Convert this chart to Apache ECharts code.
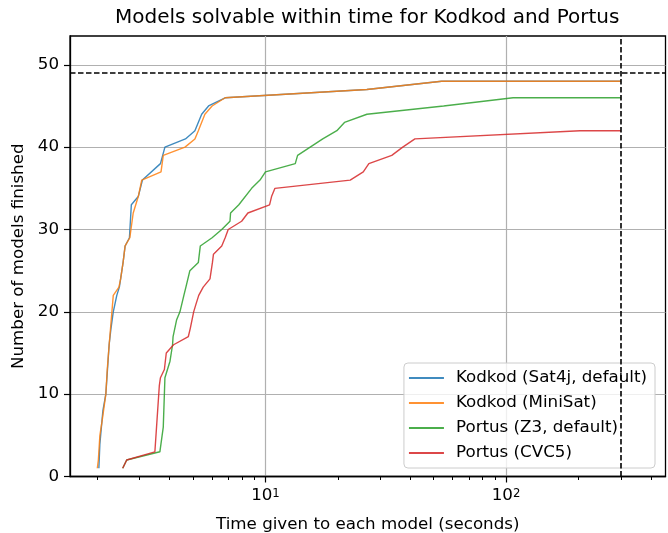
<!DOCTYPE html>
<html><head><meta charset="utf-8">
<script src="https://cdn.jsdelivr.net/npm/echarts@6/dist/echarts.min.js"></script>
<style>html,body{margin:0;padding:0;background:#fff}#c{width:668px;height:533px}</style>
</head><body><div id="c"></div>
<script>
// ---- data ----
const seriesNames = ['Kodkod (Sat4j, default)', 'Kodkod (MiniSat)', 'Portus (Z3, default)', 'Portus (CVC5)'];
const seriesColors = ['#1f77b4', '#ff7f0e', '#2ca02c', '#d62728'];

const sat4jTimes  = [2.03, 2.05, 2.11, 2.17, 2.24, 2.28, 2.33, 2.41, 2.47, 2.50, 2.56, 2.61, 2.72, 2.77, 2.96, 3.08, 3.66, 3.82, 4.65, 5.09, 5.43, 5.8, 6.8, 26.4, 54, 300];
const sat4jCounts = [1, 4, 8, 10, 16, 18, 20, 22, 23, 24, 26, 28, 29, 33, 34, 36, 38, 40, 41, 42, 44, 45, 46, 47, 48, 48];

const minisatTimes  = [2.00, 2.02, 2.05, 2.10, 2.17, 2.20, 2.24, 2.27, 2.33, 2.46, 2.50, 2.56, 2.61, 2.73, 2.76, 2.82, 2.96, 3.06, 3.68, 3.76, 4.63, 5.09, 5.26, 5.6, 6.0, 6.8, 26.4, 54, 300];
const minisatCounts = [1, 2, 5, 7, 10, 13, 16, 18, 22, 23, 24, 26, 28, 29, 30, 32, 34, 36, 37, 39, 40, 41, 42, 44, 45, 46, 47, 48, 48];

const z3Times  = [2.55, 2.65, 3.64, 3.76, 3.80, 3.82, 4.01, 4.11, 4.13, 4.27, 4.41, 4.58, 4.67, 4.85, 5.26, 5.36, 6.0, 6.58, 7.12, 7.16, 7.75, 8.76, 9.49, 10.0, 13.3, 13.6, 17.3, 19.8, 21.3, 26.4, 55, 107, 300];
const z3Counts = [1, 2, 3, 6, 10, 12, 14, 16, 17, 19, 20, 22, 23, 25, 26, 28, 29, 30, 31, 32, 33, 35, 36, 37, 38, 39, 41, 42, 43, 44, 45, 46, 46];

const cvc5Times  = [2.55, 2.65, 3.47, 3.62, 3.66, 3.80, 3.87, 4.15, 4.78, 4.87, 5.03, 5.15, 5.28, 5.51, 5.88, 6.02, 6.08, 6.58, 6.8, 7.0, 7.96, 8.45, 10.4, 10.6, 10.95, 22.5, 25.5, 26.9, 33.5, 37.2, 41.8, 203, 300];
const cvc5Counts = [1, 2, 3, 11, 12, 13, 15, 16, 17, 18, 20, 21, 22, 23, 24, 26, 27, 28, 29, 30, 31, 32, 33, 34, 35, 36, 37, 38, 39, 40, 41, 42, 42];

const totalModels = 49;
const timeLimit = 300;
const yTicks = [0, 10, 20, 30, 40, 50];
const xMajorTicks = [10, 100];
const xMinorTicks = [2, 3, 4, 5, 6, 7, 8, 9, 20, 30, 40, 50, 60, 70, 80, 90, 200, 300, 400];

// ---- chart ----
const FONT = 'DejaVu Sans';
const FS = 16.7;
const pairs = (xs, ys) => xs.map((x, i) => [x, ys[i]]);
const allData = [pairs(sat4jTimes, sat4jCounts), pairs(minisatTimes, minisatCounts), pairs(z3Times, z3Counts), pairs(cvc5Times, cvc5Counts)];

const series = allData.map((d, i) => ({
  name: seriesNames[i], type: 'line', data: d, symbol: 'none', xAxisIndex: 0, yAxisIndex: 0,
  lineStyle: { color: seriesColors[i], width: 1.4, opacity: 0.85 },
  itemStyle: { color: seriesColors[i] },
  z: 2 + i
}));
series[0].markLine = {
  silent: true, symbol: ['none', 'none'], label: { show: false },
  lineStyle: { color: '#000', type: [5.5, 2.5], width: 1.6, opacity: 1 },
  data: [{ yAxis: totalModels }, { xAxis: timeLimit }],
  z: 10
};

const chart = echarts.init(document.getElementById('c'));
chart.setOption({
  animation: false,
  title: {
    text: 'Models solvable within time for Kodkod and Portus',
    left: 115, top: 8, padding: 0,
    textStyle: { fontFamily: FONT, fontSize: 20, fontWeight: 'normal', color: '#000' }
  },
  grid: { left: 70, right: 2.5, top: 36, bottom: 56.5, outerBoundsMode: 'none', containLabel: false, show: true, borderColor: '#000', borderWidth: 1.3, backgroundColor: 'transparent' },
  legend: {
    orient: 'vertical', right: 13, top: 363,
    padding: [5, 8, 5, 5], itemGap: 5, itemWidth: 35, itemHeight: 2,
    icon: 'rect',
    itemStyle: { opacity: 0.85 },
    backgroundColor: 'rgba(255,255,255,0.8)', borderColor: '#cccccc', borderWidth: 1, borderRadius: 4,
    textStyle: { fontFamily: FONT, fontSize: FS, color: '#000', lineHeight: 20, padding: [0, 0, 0, 7] },
    data: seriesNames
  },
  xAxis: [{
    type: 'log', logBase: 10, min: 1.54, max: 460,
    name: 'Time given to each model (seconds)', nameLocation: 'middle', nameGap: 40,
    nameTextStyle: { fontFamily: FONT, fontSize: FS, color: '#000' },
    axisLine: { show: true, lineStyle: { color: '#000', width: 1.3 } },
    axisTick: { show: true, inside: false, length: 6, customValues: xMajorTicks, lineStyle: { color: '#000', width: 1.2 } },
    axisLabel: {
      show: true, margin: 11, customValues: xMajorTicks,
      formatter: v => '{a|10}{b|' + Math.round(Math.log10(v)) + '}',
      rich: {
        a: { fontFamily: FONT, fontSize: FS, color: '#000', verticalAlign: 'bottom' },
        b: { fontFamily: FONT, fontSize: 11.7, color: '#000', verticalAlign: 'top' }
      }
    },
    splitLine: { show: true, lineStyle: { color: '#b0b0b0', width: 1.2 } },
    minorTick: { show: false }
  }, {
    type: 'log', logBase: 10, min: 1.54, max: 460, position: 'bottom',
    axisLine: { show: false },
    axisTick: { show: true, inside: false, length: 3.5, customValues: xMinorTicks, lineStyle: { color: '#000', width: 1 } },
    axisLabel: { show: false },
    splitLine: { show: false }
  }],
  yAxis: {
    type: 'value', min: 0, max: 53.5, interval: 10,
    name: 'Number of models finished', nameLocation: 'middle', nameGap: 39,
    nameTextStyle: { fontFamily: FONT, fontSize: FS, color: '#000' },
    axisLine: { show: true, lineStyle: { color: '#000', width: 1.3 } },
    axisTick: { show: true, inside: false, length: 6, customValues: yTicks, lineStyle: { color: '#000', width: 1.2 } },
    axisLabel: { margin: 11, customValues: yTicks, fontFamily: FONT, fontSize: FS, color: '#000' },
    splitLine: { show: true, lineStyle: { color: '#b0b0b0', width: 1.2 } }
  },
  series: series
});
</script>
</body></html>
